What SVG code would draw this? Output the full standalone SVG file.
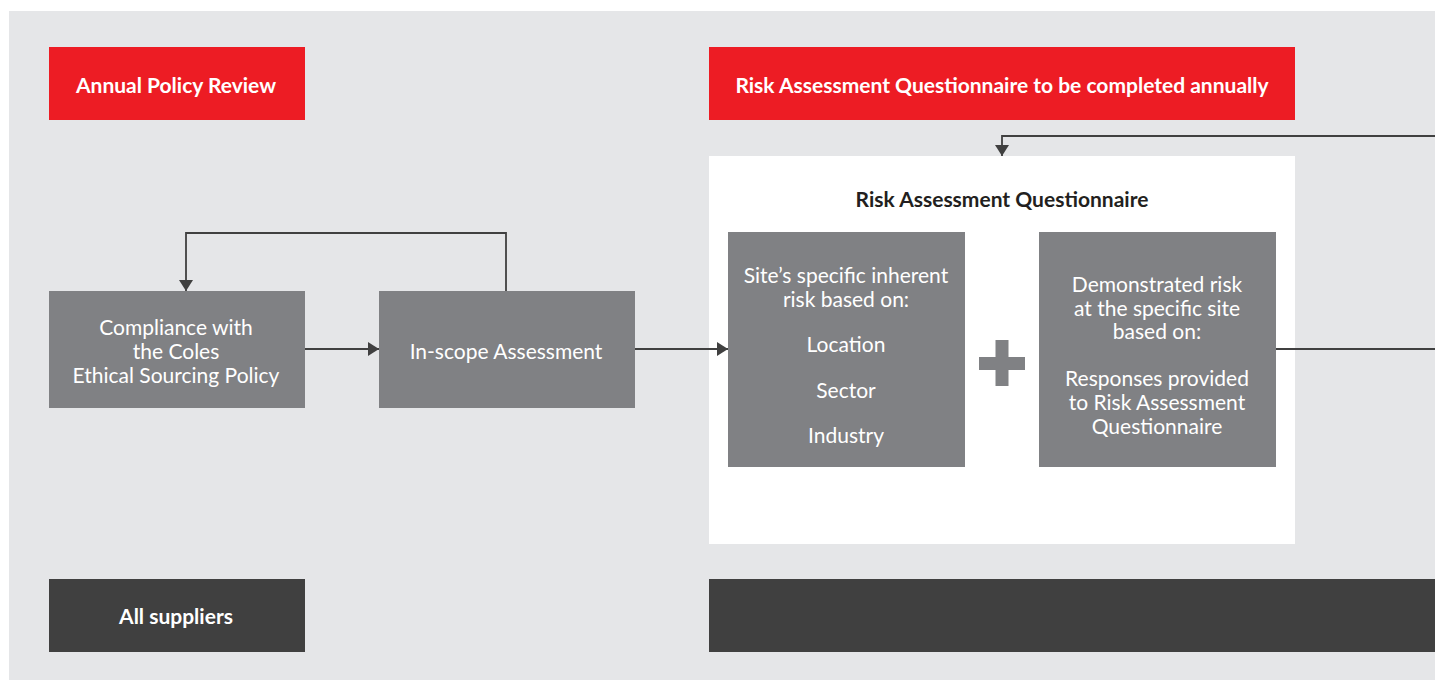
<svg xmlns="http://www.w3.org/2000/svg" width="1435" height="680" viewBox="0 0 1435 680">
  <style>
    .box { fill: #808184; }
    .red { fill: #ed1c24; }
    .dark { fill: #404040; }
    .t { font-family: "Lato", "Noto Sans", sans-serif; font-size: 21px; fill: #ffffff; text-anchor: middle; dominant-baseline: central; }
    .h { font-family: "Lato", "Noto Sans", sans-serif; font-size: 21px; font-weight: bold; fill: #ffffff; text-anchor: middle; dominant-baseline: central; }
    .hd { fill: #231f20; }
    .link { fill: none; stroke: #404040; stroke-width: 1.8; }
  </style>
  <defs>
    <marker id="arrow" viewBox="0 0 11 14" refX="11" refY="7" markerWidth="11" markerHeight="14" markerUnits="userSpaceOnUse" orient="auto">
      <path d="M0,0 L11,7 L0,14 Z" fill="#404040"/>
    </marker>
  </defs>

  <!-- canvas -->
  <rect x="0" y="0" width="1435" height="680" fill="#ffffff"/>
  <rect x="9" y="11" width="1426" height="669" fill="#e5e6e8"/>

  <!-- headers -->
  <g id="annual-policy-review">
    <rect class="red" x="49" y="47" width="256" height="73"/>
    <text class="h" x="176" y="84">Annual Policy Review</text>
  </g>
  <g id="raq-annual">
    <rect class="red" x="709" y="47" width="586" height="73"/>
    <text class="h" x="1002" y="84">Risk Assessment Questionnaire to be completed annually</text>
  </g>

  <!-- questionnaire panel -->
  <g id="raq-panel">
    <rect x="709" y="156" width="586" height="388" fill="#ffffff"/>
    <text class="h hd" x="1002" y="198">Risk Assessment Questionnaire</text>
  </g>

  <g id="compliance">
    <rect class="box" x="49" y="291" width="256" height="117"/>
    <text class="t" x="176" y="326">Compliance with</text>
    <text class="t" x="176" y="350">the Coles</text>
    <text class="t" x="176" y="374">Ethical Sourcing Policy</text>
  </g>

  <g id="in-scope">
    <rect class="box" x="379" y="291" width="256" height="117"/>
    <text class="t" x="506" y="350">In-scope Assessment</text>
  </g>

  <g id="inherent-risk">
    <rect class="box" x="728" y="232" width="237" height="235"/>
    <text class="t" x="846" y="274">Site’s specific inherent</text>
    <text class="t" x="846" y="298">risk based on:</text>
    <text class="t" x="846" y="343">Location</text>
    <text class="t" x="846" y="389">Sector</text>
    <text class="t" x="846" y="434">Industry</text>
  </g>

  <g id="plus">
    <rect class="box" x="979" y="357" width="46" height="13"/>
    <rect class="box" x="995.5" y="340" width="13" height="46"/>
  </g>

  <g id="demonstrated-risk">
    <rect class="box" x="1039" y="232" width="237" height="235"/>
    <text class="t" x="1157" y="283">Demonstrated risk</text>
    <text class="t" x="1157" y="307">at the specific site</text>
    <text class="t" x="1157" y="330">based on:</text>
    <text class="t" x="1157" y="377">Responses provided</text>
    <text class="t" x="1157" y="401">to Risk Assessment</text>
    <text class="t" x="1157" y="425">Questionnaire</text>
  </g>

  <!-- footers -->
  <g id="all-suppliers">
    <rect class="dark" x="49" y="579" width="256" height="73"/>
    <text class="h" x="176" y="615">All suppliers</text>
  </g>
  <g id="footer-right">
    <rect class="dark" x="709" y="579" width="726" height="73"/>
  </g>

  <!-- connectors -->
  <g id="connectors">
    <path class="link" d="M305,349 H379" marker-end="url(#arrow)"/>
    <path class="link" d="M506,291 V233 H186 V291" marker-end="url(#arrow)"/>
    <path class="link" d="M635,349 H728" marker-end="url(#arrow)"/>
    <path class="link" d="M1276,349 H1435"/>
    <path class="link" d="M1435,136 H1002 V156" marker-end="url(#arrow)"/>
  </g>
</svg>
